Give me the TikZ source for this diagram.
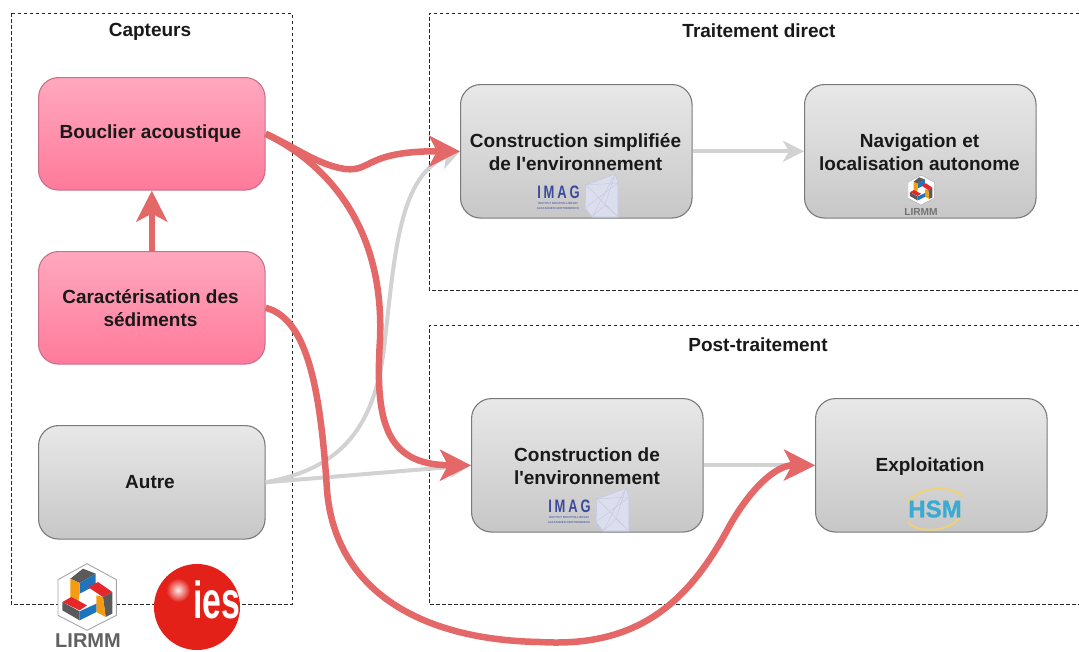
\documentclass[tikz,border=0pt]{standalone}
\usepackage{fontspec}
\setmainfont{Liberation Sans}[Ligatures=TeXOff]
\newfontfamily\heavyfont{Liberation Sans Bold}[FakeBold=1.2]
\usetikzlibrary{arrows.meta}
\definecolor{redline}{HTML}{E46868}
\definecolor{greyline}{HTML}{D2D2D2}
\definecolor{imagblue}{HTML}{3B4A9C}
\definecolor{lgrey}{HTML}{5A5A5A}
\definecolor{lblue}{HTML}{1F74BE}
\definecolor{lorange}{HTML}{F39C12}
\definecolor{lred}{HTML}{E5262B}
\definecolor{iesred}{HTML}{E32119}
\definecolor{pinktop}{HTML}{FFA8BE}
\definecolor{pinkbot}{HTML}{FF7A9B}
\definecolor{pinkedge}{HTML}{C9708A}
\definecolor{hsmblue}{HTML}{3AAAD2}
\definecolor{hsmring}{HTML}{F0D272}
\tikzset{
  frame/.style={draw=black!85,dash pattern=on 3.5pt off 2.5pt,line width=1pt},
  title/.style={font=\fontsize{19}{22}\selectfont\bfseries,text=black!90},
  boxlabel/.style={font=\fontsize{19}{23}\selectfont\bfseries,text=black!90,align=center},
  box/.style={draw=black!52,line width=1.1pt,rounded corners=20pt,anchor=north west,align=center,inner sep=0pt},
  greybox/.style={box,top color=black!9,bottom color=black!22},
  pinkbox/.style={box,draw=pinkedge,top color=pinktop,bottom color=pinkbot},
  redarrow/.style={draw=redline,line width=6.5pt,-{Stealth[length=31pt,width=31pt,inset=8pt]}},
  greyarrow/.style={draw=greyline,line width=4pt,-{Stealth[length=21pt,width=21pt,inset=6pt]}},
}
\newcommand{\lirmmlogo}[3]{%
  \begin{scope}[shift={(#1,#2)},scale=#3,shift={(-262,-170)}]
    \filldraw[fill=white,draw=black!35,line width=.9pt*#3*3] (262,70)--(350,118)--(350,225)--(262,270)--(175,225)--(175,118)--cycle;
    \fill[lgrey] (212,115)--(250,85)--(288,100)--(240,128)--cycle;
    \fill[lblue] (240,128)--(288,100)--(288,135)--(240,160)--cycle;
    \fill[lorange] (212,115)--(240,128)--(240,160)--(235,190)--(212,175)--cycle;
    \fill[lred] (265,140)--(295,125)--(338,155)--(310,170)--cycle;
    \fill[lgrey] (310,170)--(338,155)--(338,220)--(318,230)--cycle;
    \fill[lorange] (290,165)--(310,170)--(318,230)--(290,215)--cycle;
    \fill[lred] (188,185)--(215,170)--(262,195)--(240,210)--cycle;
    \fill[lgrey] (188,185)--(240,213)--(240,240)--(188,210)--cycle;
    \fill[lblue] (240,213)--(290,190)--(290,215)--(240,240)--cycle;
  \end{scope}}
\newcommand{\imaglogo}[3]{%
  \begin{scope}[shift={(#1,#2)}]
    \filldraw[fill=imagblue!18,draw=imagblue!30,line width=.6pt] (615,174)--(586,185)--(585,208)--(592,217)--(618,217)--(618,183)--cycle;
    \draw[imagblue!28,line width=.5pt] (586,185)--(618,183) (615,174)--(592,217)--(585,208)--(618,183)--(618,217)--(586,185) (615,174)--(605,205)--(592,217) (605,205)--(618,217);
    \node[text=imagblue,font=\fontsize{18}{18}\selectfont\bfseries,xscale=.72,inner sep=0pt] (#3a) at (558.5,192) {I\hspace{4pt}M\hspace{4pt}A\hspace{4pt}G};
    \node[text=imagblue!80,font=\fontsize{2.9}{3.4}\selectfont\bfseries,align=center,inner sep=0pt] (#3b) at (558,206) {INSTITUT MONTPELLIERAIN\\[1.6pt]ALEXANDER GROTHENDIECK};
  \end{scope}}
\begin{document}
\begin{tikzpicture}[x=1pt,y=-1pt]
  \useasboundingbox (0,0) rectangle (1079,651);
  \fill[white] (0,0) rectangle (1079,651);
  % frames
  \draw[frame] (11,13) rectangle (292,604);
  \draw[frame] (1085,13)--(429,13)--(429,290)--(1085,290);
  \draw[frame] (1085,325)--(429,325)--(429,604)--(1085,604);
  \node[title] (tcapt) at (150,32) {Capteurs};
  \node[title] (ttrait) at (759,31) {Traitement direct};
  \node[title] (tpost) at (758,345) {Post-traitement};
  % boxes
  \node[pinkbox,minimum width=226.5pt,minimum height=112.5pt] (bouc) at (38,77) {};
  \node[pinkbox,minimum width=226.5pt,minimum height=112.5pt] (cara) at (38,251) {};
  \node[greybox,minimum width=226.5pt,minimum height=113.5pt] (autre) at (38,425) {};
  \node[greybox,minimum width=231.5pt,minimum height=133.5pt] (csimp) at (460,84) {};
  \node[greybox,minimum width=231.5pt,minimum height=133.5pt] (navi) at (804,84) {};
  \node[greybox,minimum width=231.5pt,minimum height=133.5pt] (cenv) at (471,398) {};
  \node[greybox,minimum width=231.5pt,minimum height=133.5pt] (expl) at (815,398) {};
  \node[boxlabel] (lbouc) at (150.5,134) {Bouclier acoustique};
  \node[boxlabel] (lcara) at (150.5,308.5) {Caractérisation des\\sédiments};
  \node[boxlabel] (lautre) at (150,482) {Autre};
  \node[boxlabel] (lcsimp) at (575.5,152) {Construction simplifiée\\de l'environnement};
  \node[boxlabel] (lnavi) at (919.5,152) {Navigation et\\localisation autonome};
  \node[boxlabel] (lcenv) at (587,466) {Construction de\\l'environnement};
  \node[boxlabel] (lexpl) at (930,467) {Exploitation};
  % logos in boxes
  \imaglogo{0}{0}{ia}
  \imaglogo{11}{314}{ib}
  \lirmmlogo{921}{190}{.15}
  \node[text=black!55,font=\fontsize{10.2}{10}\selectfont\bfseries,inner sep=0pt] (lirsmall) at (921,212) {LIRMM};
  % HSM
  \draw[hsmring,line width=1.8pt] (908,503) .. controls (915,488) and (950,483) .. (963,497);
  \draw[hsmring,line width=1.8pt] (908,522) .. controls (915,532) and (945,534) .. (960,518);
  \node[text=hsmblue,font=\fontsize{24}{24}\heavyfont,inner sep=0pt] (hsm) at (935,509) {HSM};
  % big logos
  \lirmmlogo{87}{597}{.3333}
  \node[text=black!62,font=\fontsize{20}{21}\selectfont\bfseries,inner sep=0pt] (lirbig) at (88,640.5) {LIRMM};
  \fill[iesred] (197,607) circle[radius=43pt];
  \shade[inner color=white!90!iesred,outer color=iesred] (178,590) circle[radius=12pt];
  \node[text=white,font=\fontsize{52}{52}\selectfont\bfseries,xscale=.65,inner sep=0pt] (ies) at (216.5,600) {ies};
  % grey connectors
  \draw[greyarrow] (autre.east) .. controls (330,470) and (375,440) .. (385,340) .. controls (395,250) and (400,175) .. (csimp.west);
  \draw[greyarrow] (autre.east) -- (cenv.west);
  \draw[greyarrow] (csimp.east) -- (navi.west);
  \draw[greyarrow] (cenv.east) -- (expl.west);
  % red connectors
  \draw[redarrow] (cara.north) -- (bouc.south);
  \draw[redarrow] (bouc.east) .. controls (295,147) and (318,165) .. (345,169) .. controls (372,172) and (365,151) .. (csimp.west);
  \draw[redarrow] (bouc.east) .. controls (320,160) and (385,220) .. (380,340) .. controls (375,420) and (385,465) .. (cenv.west);
  \draw[redarrow] (cara.east) .. controls (305,318) and (320,380) .. (327,490) .. controls (335,590) and (420,640) .. (540,642) .. controls (640,648) and (690,600) .. (730,525) .. controls (750,490) and (775,465) .. (expl.west);
\end{tikzpicture}
\end{document}
